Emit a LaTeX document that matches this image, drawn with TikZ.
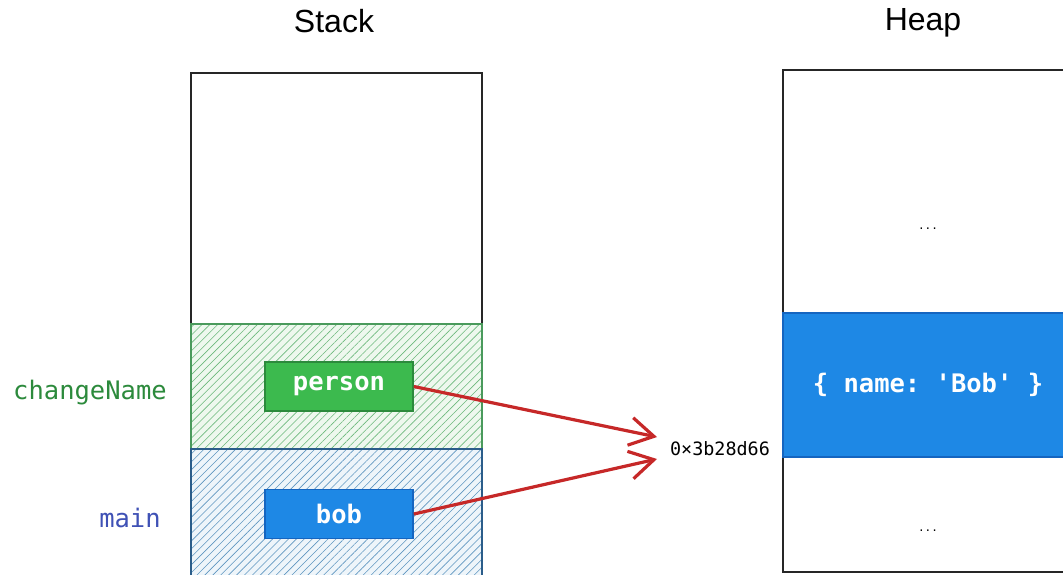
\documentclass[tikz,border=0pt]{standalone}
\usepackage{fontspec}
\setmainfont{Liberation Sans}
\setmonofont{DejaVu Sans Mono}
\usetikzlibrary{arrows.meta,patterns.meta}
\definecolor{gfill}{HTML}{3CBA4E}
\definecolor{gdraw}{HTML}{2C8A3C}
\definecolor{gzone}{HTML}{EEF8EE}
\definecolor{ghatch}{HTML}{6CB87C}
\definecolor{gline}{HTML}{4A9A5C}
\definecolor{bfill}{HTML}{1E88E5}
\definecolor{bdraw}{HTML}{1565C0}
\definecolor{bzone}{HTML}{EEF5FA}
\definecolor{bhatch}{HTML}{5F96C0}
\definecolor{bline}{HTML}{2B5D8A}
\definecolor{ptrred}{HTML}{C62828}
\definecolor{mainlbl}{HTML}{3F51B5}
\begin{document}
\begin{tikzpicture}[x=1pt,y=-1pt,
  frame/.style={draw=black!85,line width=1.2pt,inner sep=0,outer sep=0,anchor=north west},
  zone/.style={inner sep=0,outer sep=0,anchor=north west,line width=1.2pt},
  var/.style={minimum width=148pt,minimum height=49pt,inner sep=0,line width=1.6pt,
    font=\fontsize{25.5}{27}\selectfont\ttfamily\bfseries,text=white},
  title/.style={font=\fontsize{32}{34}\selectfont},
  dots/.style={font=\fontsize{11}{13}\selectfont\ttfamily},
  ptr/.style={draw=ptrred,line width=3.2pt,-{Straight Barb[length=24pt,width=28pt,line width=3.2pt]}},
  flabel/.style={font=\fontsize{25.5}{27}\selectfont\ttfamily}
]
\useasboundingbox (0,0) rectangle (1063,574);
% stack
\node[frame,minimum width=291pt,minimum height=510pt] (stack) at (191,73) {};
\node[zone,minimum width=291pt,minimum height=125pt,draw=gline,
  preaction={fill=gzone},pattern={Lines[angle=45,distance=5.6pt,line width=0.6pt]},pattern color=ghatch] (cnzone) at (191,324) {};
\node[zone,minimum width=291pt,minimum height=130pt,draw=bline,
  preaction={fill=bzone},pattern={Lines[angle=45,distance=5.6pt,line width=0.6pt]},pattern color=bhatch] (mainzone) at (191,449) {};
\node[var,fill=gfill,draw=gdraw] (person) at (339,386.5) {person};
\node[var,fill=bfill,draw=bdraw] (bob) at (339,514) {bob};
\node[flabel,text=gdraw] (cnlbl) at (90,393) {changeName};
\node[flabel,text=mainlbl] (mainlbl) at (130,518) {main};
\node[title] (stacktitle) at (334,21) {Stack};
% heap
\node[frame,minimum width=290pt,minimum height=502pt] (heap) at (783,70) {};
\node[zone,minimum width=290pt,minimum height=144pt,fill=bfill,draw=bdraw] (obj) at (783,313) {};
\node[font=\fontsize{25.5}{27}\selectfont\ttfamily\bfseries,text=white] (objtxt) at (928,385) {\{ name: 'Bob' \}};
\node[dots] (dots1) at (928,229) {...};
\node[dots] (dots2) at (928,531) {...};
\node[title] (heaptitle) at (923,23) {Heap};
% pointer
\node[font=\fontsize{18.4}{20}\selectfont\ttfamily] (addr) at (720,449) {0×3b28d66};
\coordinate (t1) at (657,437);
\coordinate (t2) at (657,459);
\draw[ptr] (person.east) -- (t1);
\draw[ptr] (bob.east) -- (t2);
\end{tikzpicture}
\end{document}
